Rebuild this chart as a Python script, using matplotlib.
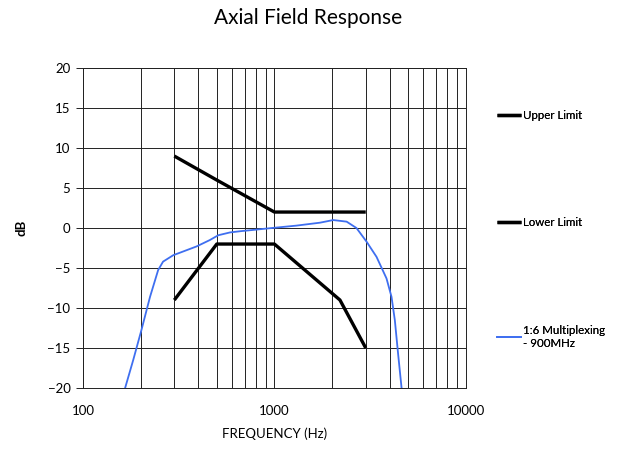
import matplotlib.pyplot as plt
from matplotlib.ticker import FixedLocator, NullFormatter

# Upper / lower limit masks
upper_f = [300, 500, 1000, 3000]
upper_db = [9, 6, 2, 2]
lower_f = [300, 500, 1000, 2200, 3000]
lower_db = [-9, -2, -2, -9, -15]

# measured response
resp_f = [166, 183, 202, 224, 247, 262, 296, 392, 460, 509, 586, 661, 800, 986,
          1300, 1730, 2029, 2384, 2684, 3029, 3415, 3851, 4090, 4256, 4426, 4616]
resp_db = [-20, -16.5, -12.75, -8.6, -5.25, -4.2, -3.4, -2.3, -1.5, -0.9, -0.55,
           -0.4, -0.2, 0.02, 0.3, 0.67, 1.0, 0.8, 0.0, -1.7, -3.6, -6.3, -8.6,
           -11.5, -15.7, -20]

xticks = [100, 1000, 10000]
xtick_labels = ['100', '1000', '10000']
yticks = [-20, -15, -10, -5, 0, 5, 10, 15, 20]

plt.rcParams['font.family'] = ['Lato', 'DejaVu Sans']

fig = plt.figure(figsize=(6.17, 4.54), dpi=100)
ax = fig.add_axes([0.1345, 0.1454, 0.6205, 0.7046])

l1, = ax.plot(upper_f, upper_db, color='black', lw=2.4, solid_capstyle='butt', label='Upper Limit')
l2, = ax.plot(lower_f, lower_db, color='black', lw=2.4, solid_capstyle='butt', label='Lower Limit')
l3, = ax.plot(resp_f, resp_db, color='#3f6ff0', lw=1.3, label='1:6 Multiplexing\n- 900MHz')

ax.set_xscale('log')
ax.set_xlim(100, 10000)
ax.set_ylim(-20, 20)
minors = [m * d for d in (100, 1000) for m in range(2, 10)]
ax.xaxis.set_major_locator(FixedLocator(xticks))
ax.xaxis.set_minor_locator(FixedLocator(minors))
ax.xaxis.set_minor_formatter(NullFormatter())
ax.set_xticks(xticks)
ax.set_xticklabels(xtick_labels)
ax.set_yticks(yticks)
ax.grid(True, which='both', color='#222222', lw=0.7)
ax.tick_params(axis='x', which='both', length=0, pad=12, labelsize=9.5)
ax.tick_params(axis='y', length=5, width=0.7, color='#222222', labelsize=9.5, pad=4)
for s in ax.spines.values():
    s.set_color('#222222')
    s.set_linewidth(0.7)

fig.suptitle('Axial Field Response', fontsize=15, x=0.5, y=0.96, va='center')
ax.set_xlabel('FREQUENCY (Hz)', fontsize=9.5, labelpad=8)
ax.set_ylabel('dB', fontsize=9.5, labelpad=14, fontweight='bold')

legend_pos = [(0.805, 0.745), (0.805, 0.509), (0.805, 0.258)]
for h, pos in zip([l1, l2, l3], legend_pos):
    lg = fig.legend(handles=[h], loc='center left', bbox_to_anchor=pos, frameon=False,
                    fontsize=8.3, handlelength=2.1, handletextpad=0.15, borderpad=0, borderaxespad=0)
    ax.add_artist(lg)

fig.savefig('out.png', dpi=100)
